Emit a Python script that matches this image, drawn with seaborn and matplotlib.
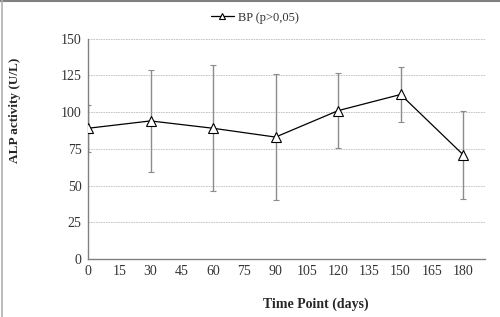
import numpy as np
import pandas as pd
import matplotlib
matplotlib.use("Agg")
import matplotlib.pyplot as plt
import seaborn as sns

# data
days = [0, 30, 60, 90, 120, 150, 180]
alp_mean = [89, 94, 89, 83, 101, 112, 71]
alp_sd = [16, 34.5, 43, 43, 25.5, 19, 30]
series_label = "BP (p>0,05)"

df = pd.DataFrame({"day": days, "alp": alp_mean, "sd": alp_sd})

sns.set_theme(style="white")
plt.rcParams["font.family"] = ["Liberation Serif", "DejaVu Serif"]

fig = plt.figure(figsize=(5.0, 3.17), dpi=100)
ax = fig.add_axes([0.176, 0.183, 0.794, 0.695])

ax.errorbar(df["day"], df["alp"], yerr=df["sd"], fmt="none",
            ecolor="#8c8c8c", elinewidth=1.0, capsize=2.5, capthick=0.8, zorder=2)
sns.lineplot(data=df, x="day", y="alp", ax=ax, color="black", linewidth=0.9,
             marker="^", markersize=7, markerfacecolor="white",
             markeredgecolor="black", markeredgewidth=0.8, label=series_label, zorder=3)

ax.set_xlim(0, 190.5)
ax.set_ylim(0, 150)
ax.set_xticks(np.arange(0, 181, 15))
ax.set_yticks(np.arange(0, 151, 25))
ax.yaxis.grid(True, linestyle=(0, (2, 1)), color="#bdbdbd", linewidth=0.6)
ax.tick_params(axis="both", labelsize=10, colors="#333333", length=5, width=0.8,
               direction="inout", pad=2)
for s in ["top", "right"]:
    ax.spines[s].set_visible(False)
for s in ["left", "bottom"]:
    ax.spines[s].set_color("#808080")
    ax.spines[s].set_linewidth(1.0)

ax.set_xlabel("Time Point (days)", fontsize=10, fontweight="bold")
ax.set_ylabel("ALP activity (U/L)", fontsize=9.5, fontweight="bold")
ax.xaxis.set_label_coords(0.574, -0.175)
ax.yaxis.set_label_coords(-0.168, 0.677)

leg = ax.legend(loc="lower center", bbox_to_anchor=(0.42, 1.045), frameon=False,
                fontsize=9, handlelength=1.9, handletextpad=0.3, borderaxespad=0)
for t in leg.get_texts():
    t.set_color("#333333")
for h in leg.legend_handles:
    h.set_markersize(5)

# chart-area frame: only the top and left edges are inside the crop
fig.add_artist(plt.Line2D([0, 1], [0.997, 0.997], transform=fig.transFigure,
                          color="#808080", linewidth=1.5))
fig.add_artist(plt.Line2D([0.003, 0.003], [0, 1], transform=fig.transFigure,
                          color="#b0b0b0", linewidth=1.2))

fig.savefig("out.png", dpi=100)
